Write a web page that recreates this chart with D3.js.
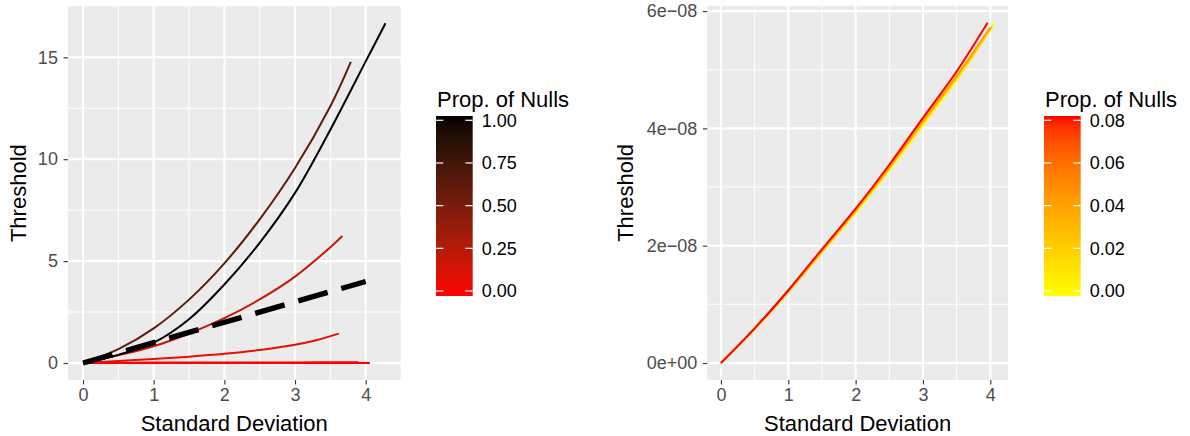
<!DOCTYPE html>
<html>
<head>
<meta charset="utf-8">
<script src="https://cdn.jsdelivr.net/npm/d3@7"></script>
<style>
  html, body { margin: 0; padding: 0; background: #ffffff; }
  svg { display: block; font-family: "Liberation Sans", Arial, Helvetica, sans-serif; }
</style>
</head>
<body>
<svg id="chart" width="1190" height="436"></svg>
<script>
// ---------- Left panel: threshold vs standard deviation, coloured by proportion of nulls ----------
const leftProps = [0, 0.01, 0.08, 0.2, 0.6, 1];

const sdP000 = [0, 1, 2, 3, 4.06];
const thrP000 = [0, 0, 0, 0, 0];

const sdP001 = [0, 1, 2, 3, 3.9];
const thrP001 = [0, 0.02, 0.03, 0.03, 0.04];

const sdP008 = [0, 0.5, 1, 1.5, 2, 2.5, 3, 3.3, 3.62];
const thrP008 = [0, 0.1, 0.2, 0.31, 0.45, 0.64, 0.9, 1.12, 1.44];

const sdP020 = [0, 0.5, 1, 1.5, 2, 2.5, 3, 3.5, 3.67];
const thrP020 = [0, 0.38, 0.82, 1.45, 2.2, 3.12, 4.24, 5.68, 6.23];

const sdP060 = [0, 0.5, 1, 1.5, 2, 2.5, 3, 3.5, 3.79];
const thrP060 = [0, 0.68, 1.7, 3.11, 4.89, 7.05, 9.57, 12.6, 14.78];

const sdP100 = [0, 0.5, 1, 1.5, 2, 2.5, 3, 3.5, 4, 4.28];
const thrP100 = [0, 0.4, 1.0, 2.15, 3.85, 5.9, 8.35, 11.45, 14.8, 16.67];

// reference line threshold = sd
const sdRef = [0, 4];
const thrRef = [0, 4];

const leftSd = [sdP000, sdP001, sdP008, sdP020, sdP060, sdP100];
const leftThr = [thrP000, thrP001, thrP008, thrP020, thrP060, thrP100];

const leftXTicks = [0, 1, 2, 3, 4];
const leftYTicks = [0, 5, 10, 15];
const leftLegendTicks = [0, 0.25, 0.5, 0.75, 1];
const leftLegendLabels = ["0.00", "0.25", "0.50", "0.75", "1.00"];

// ---------- Right panel: small proportions of nulls ----------
const rightProps = [0, 0.02, 0.04, 0.08];

const sdQ000 = [0, 0.51, 1.02, 1.54, 2.05, 2.56, 3.08, 3.59, 4.06];
const thrQ000 = [0, 0.59, 1.24, 1.94, 2.63, 3.38, 4.18, 4.97, 5.80];

const sdQ002 = [0, 0.51, 1.02, 1.53, 2.03, 2.54, 3.05, 3.56, 4.03];
const thrQ002 = [0, 0.59, 1.24, 1.94, 2.63, 3.38, 4.17, 4.95, 5.74];

const sdQ004 = [0, 0.5, 1.01, 1.52, 2.02, 2.53, 3.03, 3.54, 4.0];
const thrQ004 = [0, 0.59, 1.24, 1.94, 2.63, 3.38, 4.17, 4.96, 5.72];

const sdQ008 = [0, 0.5, 1, 1.5, 2, 2.5, 3, 3.5, 3.96];
const thrQ008 = [0, 0.59, 1.24, 1.94, 2.63, 3.38, 4.18, 4.97, 5.80];

const rightSd = [sdQ000, sdQ002, sdQ004, sdQ008];
const rightThrE8 = [thrQ000, thrQ002, thrQ004, thrQ008]; // units of 1e-8

const rightXTicks = [0, 1, 2, 3, 4];
const rightYTicks = [0, 2e-8, 4e-8, 6e-8];
const rightYLabels = ["0e+00", "2e\u221208", "4e\u221208", "6e\u221208"];
const rightLegendTicks = [0, 0.02, 0.04, 0.06, 0.08];
const rightLegendLabels = ["0.00", "0.02", "0.04", "0.06", "0.08"];

// ---------- drawing ----------
const svg = d3.select("#chart");
const PANEL_BG = "#EBEBEB";
const TICK_COL = "#333333";
const TICK_TEXT = "#4D4D4D";

function expandDomain(lo, hi) {
  const pad = (hi - lo) * 0.05;
  return [lo - pad, hi + pad];
}

function drawPanel(opts) {
  const { x, y, xTicks, yTicks, yLabels, xMinor, yMinor } = opts;
  const [x0, x1] = x.range();
  const [y0, y1] = y.range(); // y0 bottom, y1 top
  const g = svg.append("g");

  g.append("rect")
    .attr("x", x0).attr("y", y1)
    .attr("width", x1 - x0).attr("height", y0 - y1)
    .attr("fill", PANEL_BG);

  // minor grid
  g.selectAll(null).data(xMinor).join("line")
    .attr("x1", d => x(d)).attr("x2", d => x(d))
    .attr("y1", y1).attr("y2", y0)
    .attr("stroke", "#fff").attr("stroke-width", 1.05);
  g.selectAll(null).data(yMinor).join("line")
    .attr("x1", x0).attr("x2", x1)
    .attr("y1", d => y(d)).attr("y2", d => y(d))
    .attr("stroke", "#fff").attr("stroke-width", 1.05);
  // major grid
  g.selectAll(null).data(xTicks).join("line")
    .attr("x1", d => x(d)).attr("x2", d => x(d))
    .attr("y1", y1).attr("y2", y0)
    .attr("stroke", "#fff").attr("stroke-width", 2.1);
  g.selectAll(null).data(yTicks).join("line")
    .attr("x1", x0).attr("x2", x1)
    .attr("y1", d => y(d)).attr("y2", d => y(d))
    .attr("stroke", "#fff").attr("stroke-width", 2.1);

  // x axis
  const xAxis = d3.axisBottom(x).tickValues(xTicks).tickSize(4.4).tickPadding(3.5)
    .tickFormat(d3.format("d"));
  const gx = svg.append("g").attr("transform", `translate(0,${y0})`).call(xAxis);
  gx.select(".domain").remove();
  gx.selectAll(".tick line").attr("stroke", TICK_COL).attr("stroke-width", 1.1);
  gx.selectAll(".tick text").attr("fill", TICK_TEXT).attr("font-size", 18)
    .attr("font-family", "Liberation Sans, Arial, sans-serif");

  // y axis
  const yAxis = d3.axisLeft(y).tickValues(yTicks).tickSize(4.4).tickPadding(5.6)
    .tickFormat((d, i) => yLabels[i]);
  const gy = svg.append("g").attr("transform", `translate(${x0},0)`).call(yAxis);
  gy.select(".domain").remove();
  gy.selectAll(".tick line").attr("stroke", TICK_COL).attr("stroke-width", 1.1);
  gy.selectAll(".tick text").attr("fill", TICK_TEXT).attr("font-size", 18)
    .attr("font-family", "Liberation Sans, Arial, sans-serif");

  // axis titles
  svg.append("text")
    .attr("x", (x0 + x1) / 2).attr("y", 431)
    .attr("text-anchor", "middle").attr("font-size", 22).attr("fill", "#000")
    .text("Standard Deviation");
  svg.append("text")
    .attr("transform", `translate(${opts.yTitleX},${(y0 + y1) / 2}) rotate(-90)`)
    .attr("text-anchor", "middle").attr("font-size", 22).attr("fill", "#000")
    .text("Threshold");
  return g;
}

function drawColorbar(opts) {
  const { left, title, interp, scale, ticks, labels, id } = opts;
  const barTop = 116, barBottom = 296, barW = 36.7;
  const defs = svg.append("defs");
  const grad = defs.append("linearGradient").attr("id", id)
    .attr("x1", 0).attr("y1", 1).attr("x2", 0).attr("y2", 0);
  d3.range(0, 1.0001, 0.05).forEach(t => {
    grad.append("stop").attr("offset", t).attr("stop-color", interp(t));
  });
  svg.append("text").attr("x", left + 1).attr("y", 107)
    .attr("font-size", 22).attr("fill", "#000").text(title);
  svg.append("rect").attr("x", left).attr("y", barTop)
    .attr("width", barW).attr("height", barBottom - barTop)
    .attr("fill", `url(#${id})`);
  const tl = barW / 5;
  ticks.forEach((v, i) => {
    const yy = scale(v);
    svg.append("line").attr("x1", left).attr("x2", left + tl)
      .attr("y1", yy).attr("y2", yy).attr("stroke", "#fff").attr("stroke-width", 1.2);
    svg.append("line").attr("x1", left + barW - tl).attr("x2", left + barW)
      .attr("y1", yy).attr("y2", yy).attr("stroke", "#fff").attr("stroke-width", 1.2);
    svg.append("text").attr("x", left + barW + 9).attr("y", yy)
      .attr("dy", "0.36em").attr("font-size", 18).attr("fill", "#000")
      .text(labels[i]);
  });
}

// ----- left panel -----
const leftXMax = d3.max(leftSd.flat());
const leftYMax = d3.max(leftThr.flat());
const xL = d3.scaleLinear().domain(expandDomain(0, leftXMax)).range([67.9, 400.6]);
const yL = d3.scaleLinear().domain(expandDomain(0, leftYMax)).range([380, 6.3]);

const gL = drawPanel({
  x: xL, y: yL, xTicks: leftXTicks, yTicks: leftYTicks,
  yLabels: leftYTicks.map(String),
  xMinor: [0.5, 1.5, 2.5, 3.5], yMinor: [2.5, 7.5, 12.5], yTitleX: 26
});

const colL = d3.scaleLinear().domain([0, 1]).range(["red", "black"]).interpolate(d3.interpolateLab);
const lineL = d3.line().x(d => xL(d[0])).y(d => yL(d[1])).curve(d3.curveCatmullRom.alpha(0.5));

leftProps.forEach((p, i) => {
  const pts = leftSd[i].map((s, j) => [s, leftThr[i][j]]);
  gL.append("path").attr("d", lineL(pts))
    .attr("fill", "none").attr("stroke", colL(p)).attr("stroke-width", 2)
    .attr("stroke-linejoin", "round");
});
gL.append("path")
  .attr("d", d3.line().x(d => xL(d[0])).y(d => yL(d[1]))(sdRef.map((s, j) => [s, thrRef[j]])))
  .attr("fill", "none").attr("stroke", "#000").attr("stroke-width", 5.4)
  .attr("stroke-dasharray", "30.6,14.2");

drawColorbar({
  id: "gradL", left: 436, title: "Prop. of Nulls",
  interp: t => colL(t), scale: d3.scaleLinear().domain([0, 1]).range([291, 120.3]),
  ticks: leftLegendTicks, labels: leftLegendLabels
});

// ----- right panel -----
const rightXMax = d3.max(rightSd.flat());
const rightYMax = d3.max(rightThrE8.flat()) * 1e-8;
const xR = d3.scaleLinear().domain(expandDomain(0, rightXMax)).range([707.3, 1008]);
const yR = d3.scaleLinear().domain(expandDomain(0, rightYMax)).range([380, 5.8]);

const gR = drawPanel({
  x: xR, y: yR, xTicks: rightXTicks, yTicks: rightYTicks, yLabels: rightYLabels,
  xMinor: [0.5, 1.5, 2.5, 3.5], yMinor: [1e-8, 3e-8, 5e-8], yTitleX: 633
});

const colR = d3.scaleLinear().domain([0, 0.08]).range(["yellow", "red"]).interpolate(d3.interpolateLab);
const lineR = d3.line().x(d => xR(d[0])).y(d => yR(d[1] * 1e-8)).curve(d3.curveCatmullRom.alpha(0.5));

rightProps.forEach((p, i) => {
  const pts = rightSd[i].map((s, j) => [s, rightThrE8[i][j]]);
  gR.append("path").attr("d", lineR(pts))
    .attr("fill", "none").attr("stroke", colR(p)).attr("stroke-width", 2)
    .attr("stroke-linejoin", "round");
});

drawColorbar({
  id: "gradR", left: 1044, title: "Prop. of Nulls",
  interp: t => colR(t * 0.08), scale: d3.scaleLinear().domain([0, 0.08]).range([291, 120.3]),
  ticks: rightLegendTicks, labels: rightLegendLabels
});
</script>
</body>
</html>
